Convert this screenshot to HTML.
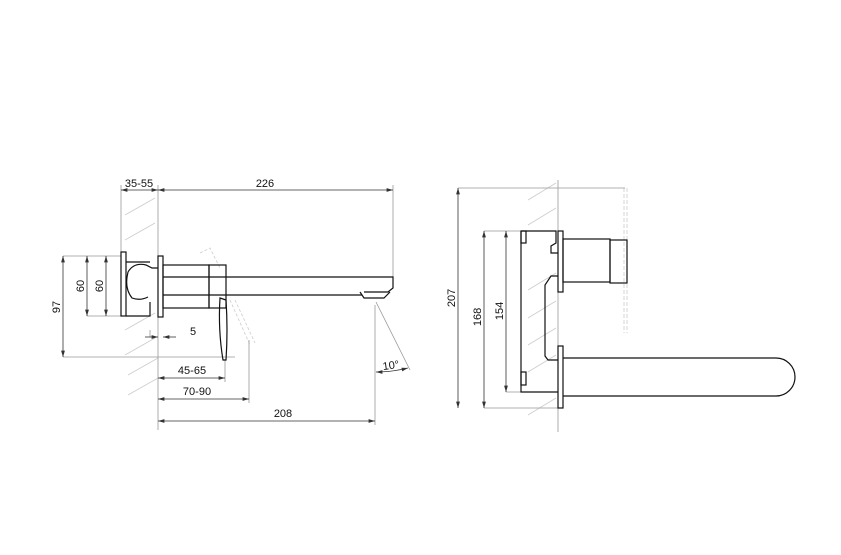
<!DOCTYPE html>
<html><head><meta charset="utf-8"><style>
html,body{margin:0;padding:0;background:#fff}
svg{display:block}
text{font-family:"Liberation Sans",sans-serif;font-size:11px;fill:#111}
</style></head><body>
<svg width="841" height="555" viewBox="0 0 841 555" xmlns="http://www.w3.org/2000/svg">
<defs>
<marker id="a" viewBox="0 0 10 6" refX="10" refY="3" markerWidth="8" markerHeight="5" orient="auto-start-reverse"><path d="M0,0L10,3L0,6z" fill="#333"/></marker>
</defs>
<g stroke="#ccc" stroke-width="0.8" fill="none">
<path d="M125,215L155,198M125,240L155,223M125,330L155,313M125,355L155,338M128,375L158,358M128,395L158,378"/>
<path d="M528,200L556,183M528,225L556,208M528,290L556,273M528,318L556,301M528,345L556,328M528,372L556,355M528,415L556,398"/>
<path d="M200,253L210,248L220,268M230,300L250,345M235,300L255,343" stroke-dasharray="3,2"/>
<path d="M624,188V333M627,188V333" stroke-dasharray="4,2"/>
</g>
<g stroke="#999" stroke-width="0.8" fill="none">
<path d="M121,185V252M158,185V430M393,185V278M63,256H121M87,256H121M63,357H235M87,316H130M106,316H130M150,337V330M249,340V403M225,360V382M375,305V425M376,302L410,370"/>
<path d="M458,188H625M484,231H521M506,231H521M484,408H558M506,392H521M558,180V432"/>
</g>
<g stroke="#333" stroke-width="0.8" fill="none">
<line x1="121" y1="190" x2="158" y2="190" marker-start="url(#a)" marker-end="url(#a)"/>
<line x1="158" y1="190" x2="393" y2="190" marker-start="url(#a)" marker-end="url(#a)"/>
<line x1="63" y1="256" x2="63" y2="357" marker-start="url(#a)" marker-end="url(#a)"/>
<line x1="87" y1="256" x2="87" y2="316" marker-start="url(#a)" marker-end="url(#a)"/>
<line x1="106" y1="256" x2="106" y2="316" marker-start="url(#a)" marker-end="url(#a)"/>
<line x1="145" y1="337" x2="158" y2="337" marker-end="url(#a)"/>
<line x1="176" y1="337" x2="163" y2="337" marker-end="url(#a)"/>
<line x1="158" y1="378" x2="225" y2="378" marker-start="url(#a)" marker-end="url(#a)"/>
<line x1="158" y1="399" x2="249" y2="399" marker-start="url(#a)" marker-end="url(#a)"/>
<line x1="158" y1="421" x2="375" y2="421" marker-start="url(#a)" marker-end="url(#a)"/>
<path d="M376,372Q392,372 408,368" marker-start="url(#a)" marker-end="url(#a)"/>
<line x1="458" y1="188" x2="458" y2="408" marker-start="url(#a)" marker-end="url(#a)"/>
<line x1="484" y1="231" x2="484" y2="408" marker-start="url(#a)" marker-end="url(#a)"/>
<line x1="506" y1="231" x2="506" y2="392" marker-start="url(#a)" marker-end="url(#a)"/>
</g>
<g stroke="#111" stroke-width="1.2" fill="none">
<rect x="121" y="252" width="5" height="64"/>
<path d="M126,316H150V302M126,262H150"/>
<path d="M128,272Q134,262 146,265L152,268H158M128,272Q124,288 132,298Q140,301 148,297"/>
<rect x="158" y="256" width="5" height="61"/>
<rect x="163" y="265" width="46" height="43"/>
<rect x="209" y="265" width="17" height="43"/>
<path d="M163,277H393V288L388,292H364M163,295H362"/>
<path d="M360,292L364,298H384L390,292"/>
<path d="M220,298L226,300Q228,330 226,360L223,360Q218,330 220,298Z"/>
<path d="M521,231H556V243L551,246V253H558M521,231V392H558"/>
<path d="M558,276H551L545,285V356L548,360H558"/>
<rect x="521" y="231" width="5" height="12"/>
<rect x="521" y="372" width="5" height="13"/>
<rect x="558" y="231" width="5" height="61"/>
<rect x="563" y="239" width="47" height="43"/>
<rect x="610" y="240" width="17" height="43"/>
<rect x="558" y="346" width="5" height="62"/>
<path d="M563,358H776A19,19 0 0 1 776,396H563"/>
</g>
<text x="139" y="187" text-anchor="middle">35-55</text>
<text x="265" y="187" text-anchor="middle">226</text>
<text x="193" y="335" text-anchor="middle">5</text>
<text x="192" y="374" text-anchor="middle">45-65</text>
<text x="197" y="395" text-anchor="middle">70-90</text>
<text x="283" y="417" text-anchor="middle">208</text>
<text x="391" y="369" text-anchor="middle" transform="rotate(-8 391 366)">10°</text>
<text transform="translate(60,307) rotate(-90)" text-anchor="middle">97</text>
<text transform="translate(84,286) rotate(-90)" text-anchor="middle">60</text>
<text transform="translate(103,286) rotate(-90)" text-anchor="middle">60</text>
<text transform="translate(455,298) rotate(-90)" text-anchor="middle">207</text>
<text transform="translate(481,317) rotate(-90)" text-anchor="middle">168</text>
<text transform="translate(503,311) rotate(-90)" text-anchor="middle">154</text>
</svg>
</body></html>
